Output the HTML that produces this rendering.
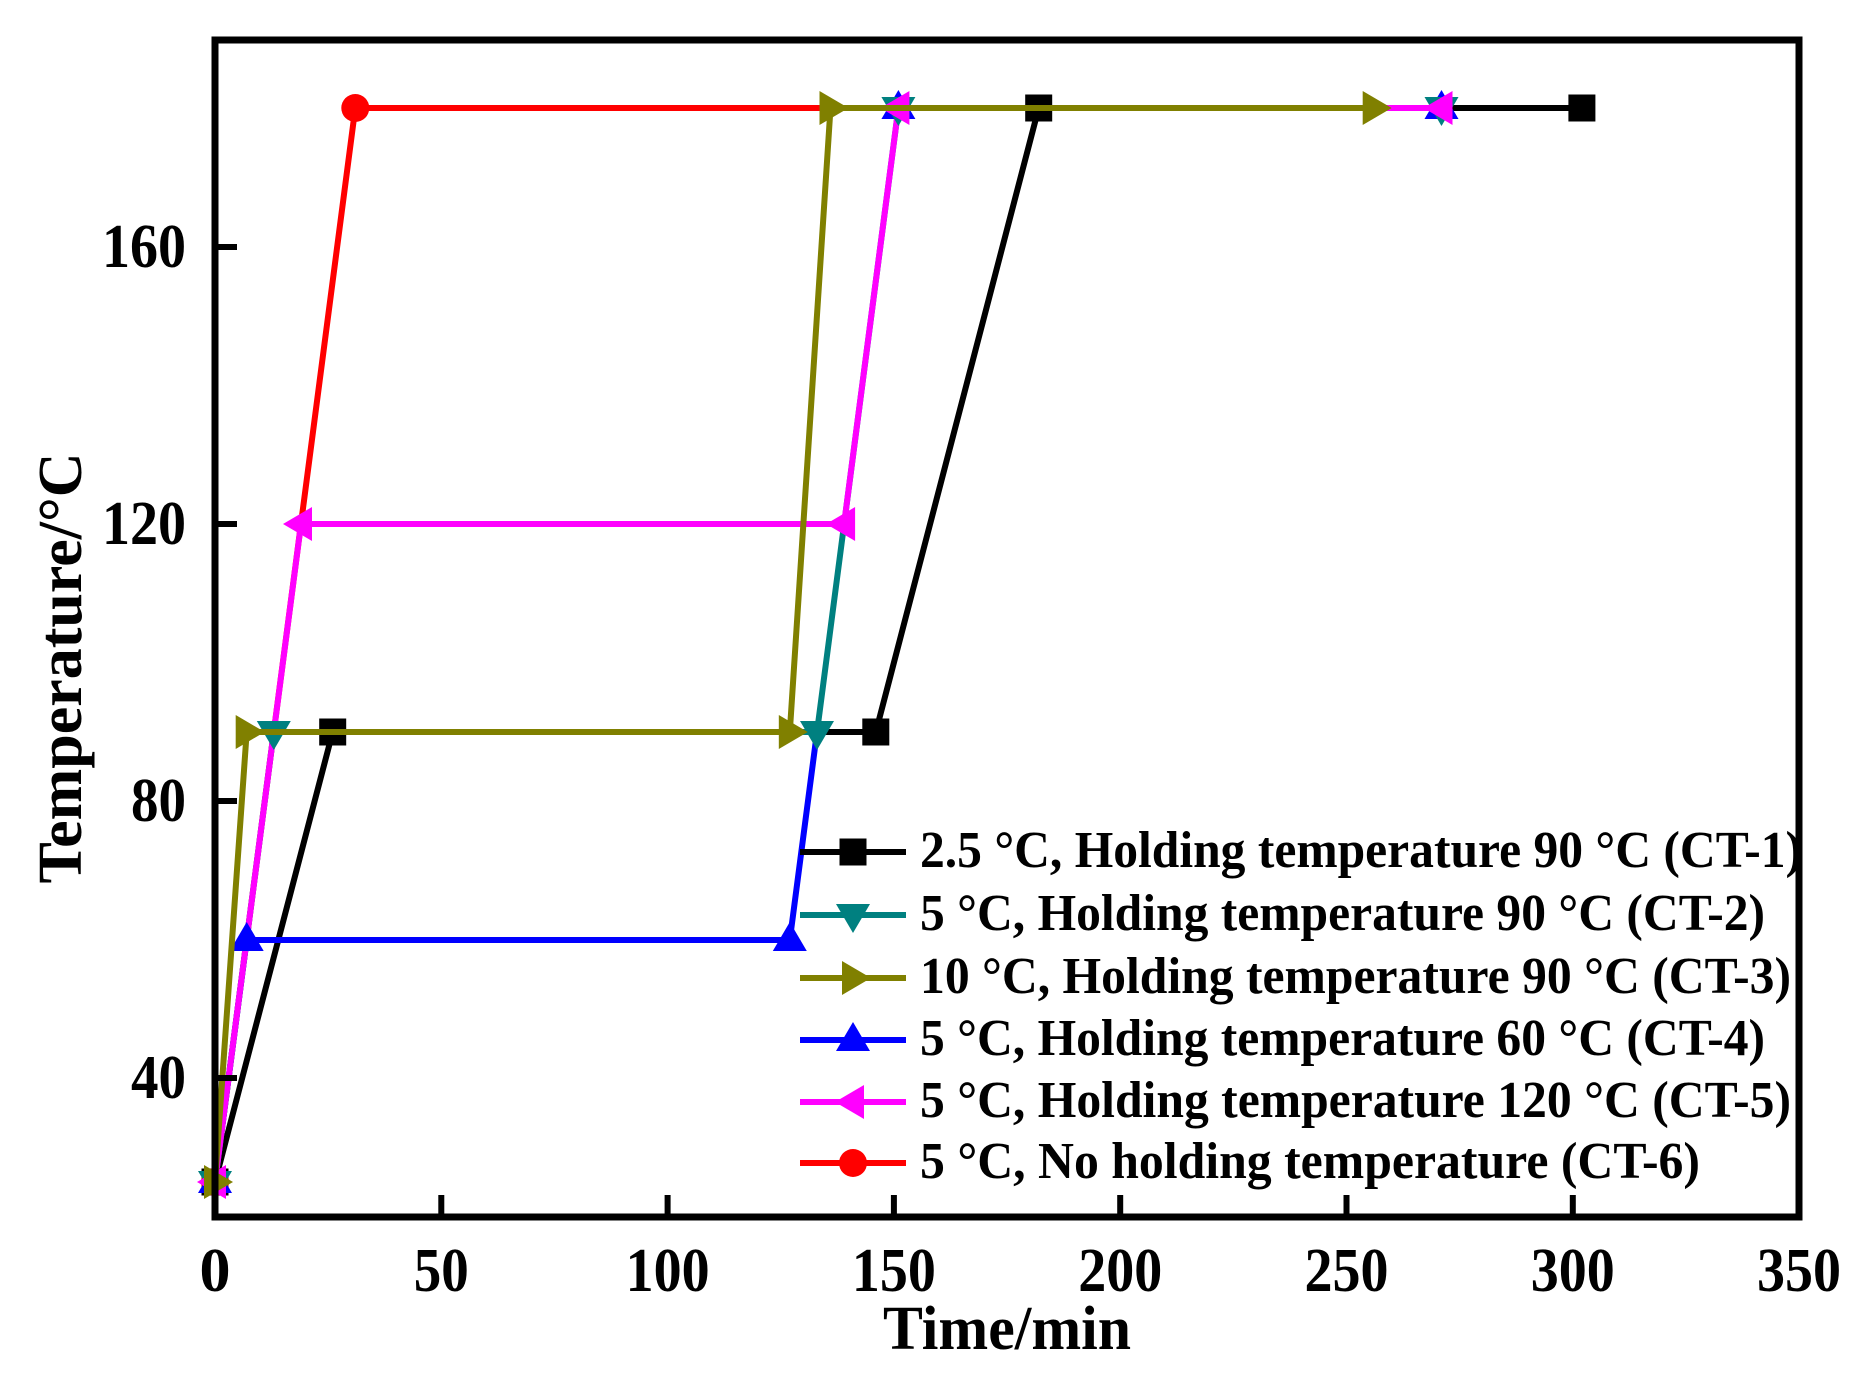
<!DOCTYPE html>
<html><head><meta charset="utf-8"><style>
html,body{margin:0;padding:0;background:#fff;}
svg{display:block;}
text{font-family:"Liberation Serif",serif;font-weight:bold;fill:#000;}
</style></head><body>
<svg width="1863" height="1378" viewBox="0 0 1863 1378" xmlns="http://www.w3.org/2000/svg">
<defs>
<rect id="sq" x="-13.5" y="-13.5" width="27" height="27"/>
<polygon id="dn" points="-17,-11 17,-11 0,18"/>
<polygon id="rt" points="-11,-17 -11,17 18,0"/>
<polygon id="up" points="-17,11 17,11 0,-18"/>
<polygon id="lf" points="11,-17 11,17 -18,0"/>
<circle id="ci" r="14"/>
</defs>
<g fill="none" stroke-width="6" stroke-linejoin="round">
<polyline stroke="#000" points="215,1182 332.7,732 875.8,732 1038.7,108 1581.9,108"/>
<polyline stroke="#ff0000" points="215,1182 355.3,108 898.4,108"/>
<polyline stroke="#0000ff" points="215,1182 246.7,940 789.8,940 817,732"/>
<polyline stroke="#008080" points="215,1182 273.8,732 817,732 898.4,108 1441.5,108"/>
<polyline stroke="#ff00ff" points="215,1182 301,524 844.1,524 898.4,108 1441.5,108"/>
</g>
<g fill="#000"><use href="#sq" x="215" y="1182"/><use href="#sq" x="332.7" y="732"/><use href="#sq" x="875.8" y="732"/><use href="#sq" x="1038.7" y="108"/><use href="#sq" x="1581.9" y="108"/></g>
<g fill="#ff0000"><use href="#ci" x="215" y="1182"/><use href="#ci" x="355.3" y="108"/></g>
<g fill="#0000ff"><use href="#up" x="215" y="1182"/><use href="#up" x="246.7" y="940"/><use href="#up" x="789.8" y="940"/><use href="#up" x="898.4" y="108"/><use href="#up" x="1441.5" y="108"/></g>
<g fill="#008080"><use href="#dn" x="215" y="1182"/><use href="#dn" x="273.8" y="732"/><use href="#dn" x="817" y="732"/><use href="#dn" x="898.4" y="108"/><use href="#dn" x="1441.5" y="108"/></g>
<g fill="#ff00ff"><use href="#lf" x="215" y="1182"/><use href="#lf" x="301" y="524"/><use href="#lf" x="844.1" y="524"/><use href="#lf" x="898.4" y="108"/><use href="#lf" x="1441.5" y="108"/></g>
<polyline fill="none" stroke="#808000" stroke-width="6" stroke-linejoin="round" points="215,1182 246.7,732 789.8,732 830.5,108 1373.7,108"/>
<g fill="#808000"><use href="#rt" x="215" y="1182"/><use href="#rt" x="246.7" y="732"/><use href="#rt" x="789.8" y="732"/><use href="#rt" x="830.5" y="108"/><use href="#rt" x="1373.7" y="108"/></g>

<rect x="215" y="40" width="1584" height="1177" fill="none" stroke="#000" stroke-width="7"/>
<g stroke="#000" stroke-width="6">
<line x1="441.3" y1="1217" x2="441.3" y2="1195"/><line x1="667.6" y1="1217" x2="667.6" y2="1195"/>
<line x1="893.9" y1="1217" x2="893.9" y2="1195"/><line x1="1120.2" y1="1217" x2="1120.2" y2="1195"/>
<line x1="1346.5" y1="1217" x2="1346.5" y2="1195"/><line x1="1572.8" y1="1217" x2="1572.8" y2="1195"/>
<line x1="215" y1="1078" x2="237" y2="1078"/><line x1="215" y1="801" x2="237" y2="801"/>
<line x1="215" y1="524" x2="237" y2="524"/><line x1="215" y1="247" x2="237" y2="247"/>
</g>
<g font-size="62" text-anchor="middle">
<text x="215" y="1291">0</text><text x="441.3" y="1291" textLength="55" lengthAdjust="spacingAndGlyphs">50</text><text x="667.6" y="1291" textLength="84" lengthAdjust="spacingAndGlyphs">100</text>
<text x="893.9" y="1291" textLength="84" lengthAdjust="spacingAndGlyphs">150</text><text x="1120.2" y="1291" textLength="84" lengthAdjust="spacingAndGlyphs">200</text><text x="1346.5" y="1291" textLength="84" lengthAdjust="spacingAndGlyphs">250</text>
<text x="1572.8" y="1291" textLength="84" lengthAdjust="spacingAndGlyphs">300</text><text x="1799" y="1291" textLength="84" lengthAdjust="spacingAndGlyphs">350</text>
</g>
<g font-size="62" text-anchor="end">
<text x="186" y="1098" textLength="55" lengthAdjust="spacingAndGlyphs">40</text><text x="186" y="821" textLength="55" lengthAdjust="spacingAndGlyphs">80</text><text x="186" y="544" textLength="84" lengthAdjust="spacingAndGlyphs">120</text><text x="186" y="267" textLength="84" lengthAdjust="spacingAndGlyphs">160</text>
</g>
<text x="1007" y="1349" font-size="62" text-anchor="middle" textLength="248" lengthAdjust="spacingAndGlyphs">Time/min</text>
<text transform="translate(81,668) rotate(-90)" font-size="62" text-anchor="middle" textLength="431" lengthAdjust="spacingAndGlyphs">Temperature/°C</text>

<g stroke-width="6">
<line x1="800" y1="852" x2="906" y2="852" stroke="#000"/>
<line x1="800" y1="915" x2="906" y2="915" stroke="#008080"/>
<line x1="800" y1="978" x2="906" y2="978" stroke="#808000"/>
<line x1="800" y1="1040" x2="906" y2="1040" stroke="#0000ff"/>
<line x1="800" y1="1102" x2="906" y2="1102" stroke="#ff00ff"/>
<line x1="800" y1="1163" x2="906" y2="1163" stroke="#ff0000"/>
</g>
<use href="#sq" x="853" y="852" fill="#000"/>
<use href="#dn" x="853" y="915" fill="#008080"/>
<use href="#rt" x="853" y="978" fill="#808000"/>
<use href="#up" x="853" y="1040" fill="#0000ff"/>
<use href="#lf" x="853" y="1102" fill="#ff00ff"/>
<use href="#ci" x="853" y="1163" fill="#ff0000"/>
<g font-size="52">
<text x="920" y="867" textLength="882" lengthAdjust="spacingAndGlyphs">2.5 °C, Holding temperature 90 °C (CT-1)</text>
<text x="920" y="930" textLength="845" lengthAdjust="spacingAndGlyphs">5 °C, Holding temperature 90 °C (CT-2)</text>
<text x="920" y="993" textLength="871" lengthAdjust="spacingAndGlyphs">10 °C, Holding temperature 90 °C (CT-3)</text>
<text x="920" y="1055" textLength="845" lengthAdjust="spacingAndGlyphs">5 °C, Holding temperature 60 °C (CT-4)</text>
<text x="920" y="1117" textLength="871" lengthAdjust="spacingAndGlyphs">5 °C, Holding temperature 120 °C (CT-5)</text>
<text x="920" y="1178" textLength="780" lengthAdjust="spacingAndGlyphs">5 °C, No holding temperature (CT-6)</text>
</g>
</svg>
</body></html>
